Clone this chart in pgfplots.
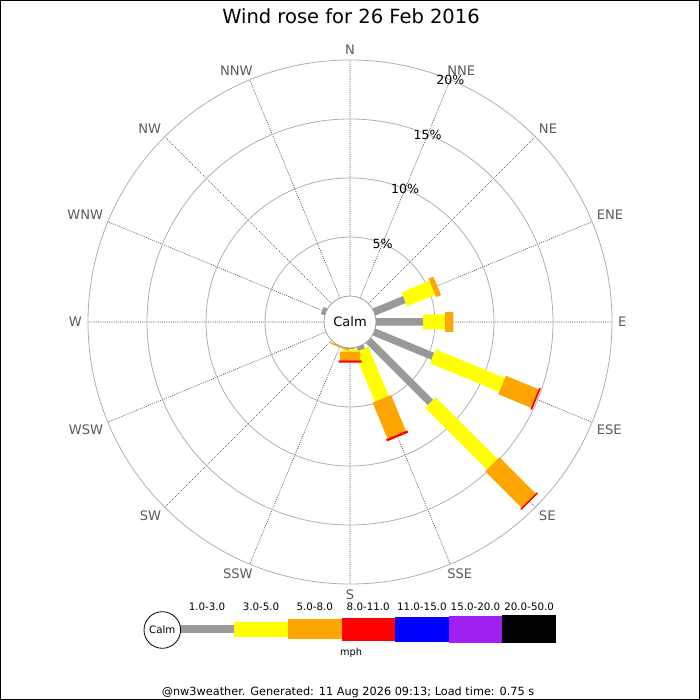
\documentclass[border=0pt]{standalone}
\usepackage{fontspec}
\setmainfont{DejaVu Sans}
\usepackage{pgfplots}
\pgfplotsset{compat=1.18}
\usepgfplotslibrary{polar}
\usepackage{pgfplotstable}

\definecolor{wgray}{RGB}{153,153,153}
\definecolor{wyellow}{RGB}{255,255,0}
\definecolor{worange}{RGB}{255,165,0}
\definecolor{wred}{RGB}{255,0,0}
\definecolor{wblue}{RGB}{0,0,255}
\definecolor{wpurple}{RGB}{160,32,240}
\definecolor{ringgray}{RGB}{175,175,175}
\definecolor{spokegray}{RGB}{70,70,70}
\definecolor{labelgray}{RGB}{90,90,90}
\definecolor{calmgray}{RGB}{160,160,160}

% angle (deg, counterclockwise from east), cumulative percent
\pgfplotstableread{
a r
0 0
0 4.0
nan nan
22.5 0
22.5 2.8
nan nan
-22.5 0
-22.5 5.4
nan nan
-45 0
-45 7.45
nan nan
-67.5 0
-67.5 0.35
nan nan
-90 0
-90 0.1
nan nan
157.5 0
157.5 0.35
}\graydata

\pgfplotstableread{
a r
0 4.0
0 5.85
nan nan
22.5 2.8
22.5 5.35
nan nan
-22.5 5.4
-22.5 11.75
nan nan
-45 7.45
-45 14.85
nan nan
-67.5 0.35
-67.5 4.85
nan nan
-90 0.1
-90 0.3
}\yellowdata

\pgfplotstableread{
a r
0 5.85
0 6.55
nan nan
22.5 5.35
22.5 5.8
nan nan
-22.5 11.75
-22.5 14.75
nan nan
-45 14.85
-45 19.2
nan nan
-67.5 4.85
-67.5 8.15
nan nan
-90 0.3
-90 1.05
nan nan
-112.5 0
-112.5 0.12
}\orangedata

\pgfplotstableread{
a r
-22.5 14.75
-22.5 14.9
nan nan
-45 19.2
-45 19.33
nan nan
-67.5 8.15
-67.5 8.35
nan nan
-90 1.05
-90 1.25
}\reddata

\begin{document}
\begin{tikzpicture}
\useasboundingbox (0,0) rectangle (700pt,700pt);
\begin{polaraxis}[
  at={(350pt,378pt)}, anchor=center,
  width=524pt, height=524pt, scale only axis,
  xmin=0, xmax=360, ymin=0, ymax=22.2,
  xtick={0,22.5,...,337.5},
  ytick={7.2,12.2,17.2,22.2},
  xticklabels={}, yticklabels={},
  tick style={draw=none},
  axis line style={draw=none},
  xmajorgrids, ymajorgrids,
  x grid style={spokegray, line width=0.6pt, dash pattern=on 1pt off 1.2pt},
  y grid style={ringgray, line width=0.8pt},
  clip=false,
  unbounded coords=jump,
]
\addplot[draw=wgray, line width=7.5pt] table[x=a, y expr=\thisrow{r}+2.2] {\graydata};
\addplot[draw=wyellow, line width=15pt] table[x=a, y expr=\thisrow{r}+2.2] {\yellowdata};
\addplot[draw=worange, line width=20pt] table[x=a, y expr=\thisrow{r}+2.2] {\orangedata};
\addplot[draw=wred, line width=23pt] table[x=a, y expr=\thisrow{r}+2.2] {\reddata};

\node[circle, draw=calmgray, fill=white, minimum size=52pt, inner sep=0pt, line width=0.8pt,
  font=\fontsize{13}{15}\selectfont] at (axis cs:0,0) {Calm};

\begin{scope}[every node/.style={font=\fontsize{12.6}{14}\selectfont, inner sep=0pt}]
\node at (axis cs:67.5,7.2) {5\%};
\node at (axis cs:67.5,12.2) {10\%};
\node at (axis cs:67.5,17.2) {15\%};
\node at (axis cs:67.5,22.2) {20\%};
\end{scope}

\begin{scope}[every node/.style={font=\fontsize{13.1}{15}\selectfont, text=labelgray, inner sep=0pt}]
\node[anchor=south] at (axis cs:90,22.62) {N};
\node[anchor=south west, xshift=-5pt] at (axis cs:67.5,22.62) {NNE};
\node[anchor=south west] at (axis cs:45,22.62) {NE};
\node[anchor=south west] at (axis cs:22.5,22.62) {ENE};
\node[anchor=west] at (axis cs:0,22.7) {E};
\node[anchor=north west] at (axis cs:-22.5,22.62) {ESE};
\node[anchor=north west] at (axis cs:-45,22.62) {SE};
\node[anchor=north west, xshift=-5pt] at (axis cs:-67.5,22.62) {SSE};
\node[anchor=north] at (axis cs:-90,22.7) {S};
\node[anchor=north east, xshift=5pt] at (axis cs:-112.5,22.62) {SSW};
\node[anchor=north east] at (axis cs:-135,22.62) {SW};
\node[anchor=north east] at (axis cs:-157.5,22.62) {WSW};
\node[anchor=east] at (axis cs:180,22.7) {W};
\node[anchor=south east] at (axis cs:157.5,22.62) {WNW};
\node[anchor=south east] at (axis cs:135,22.62) {NW};
\node[anchor=south east, xshift=5pt] at (axis cs:112.5,22.62) {NNW};
\end{scope}
\end{polaraxis}

% frame
\draw[black, line width=1.2pt] (0.6pt,0.6pt) rectangle (699.4pt,699.4pt);

% title
\node[anchor=base, font=\fontsize{19.5}{22}\selectfont, inner sep=0pt] at (351pt,676pt) {Wind rose for 26 Feb 2016};

% legend key
\fill[wgray] (180pt,66.5pt) rectangle (234pt,74.5pt);
\fill[wyellow] (234pt,63pt) rectangle (288pt,78pt);
\fill[worange] (288pt,60.5pt) rectangle (341.5pt,80.5pt);
\fill[wred] (341.5pt,59pt) rectangle (395pt,82pt);
\fill[wblue] (395pt,58pt) rectangle (448.7pt,83pt);
\fill[wpurple] (448.7pt,57pt) rectangle (502.3pt,84pt);
\fill[black] (502.3pt,56.5pt) rectangle (556pt,84.5pt);
\draw[black, fill=white, line width=0.8pt] (162.3pt,70pt) circle (18.3pt);
\node[font=\fontsize{10.2}{12}\selectfont, inner sep=0pt] at (162.3pt,70pt) {Calm};
\begin{scope}[every node/.style={anchor=base, font=\fontsize{10.3}{12}\selectfont, inner sep=0pt}]
\node at (207pt,89.3pt) {1.0-3.0};
\node at (261pt,89.3pt) {3.0-5.0};
\node at (314.75pt,89.3pt) {5.0-8.0};
\node at (368.25pt,89.3pt) {8.0-11.0};
\node at (421.85pt,89.3pt) {11.0-15.0};
\node at (475.5pt,89.3pt) {15.0-20.0};
\node at (529.15pt,89.3pt) {20.0-50.0};
\end{scope}
\node[anchor=base, font=\fontsize{9.8}{12}\selectfont, inner sep=0pt] at (351pt,44pt) {mph};
\node[anchor=base, font=\fontsize{11.3}{13}\selectfont, inner sep=0pt] at (348pt,5pt) {@nw3weather. Generated: 11 Aug 2026 09:13; Load time: 0.75 s};
\end{tikzpicture}
\end{document}
